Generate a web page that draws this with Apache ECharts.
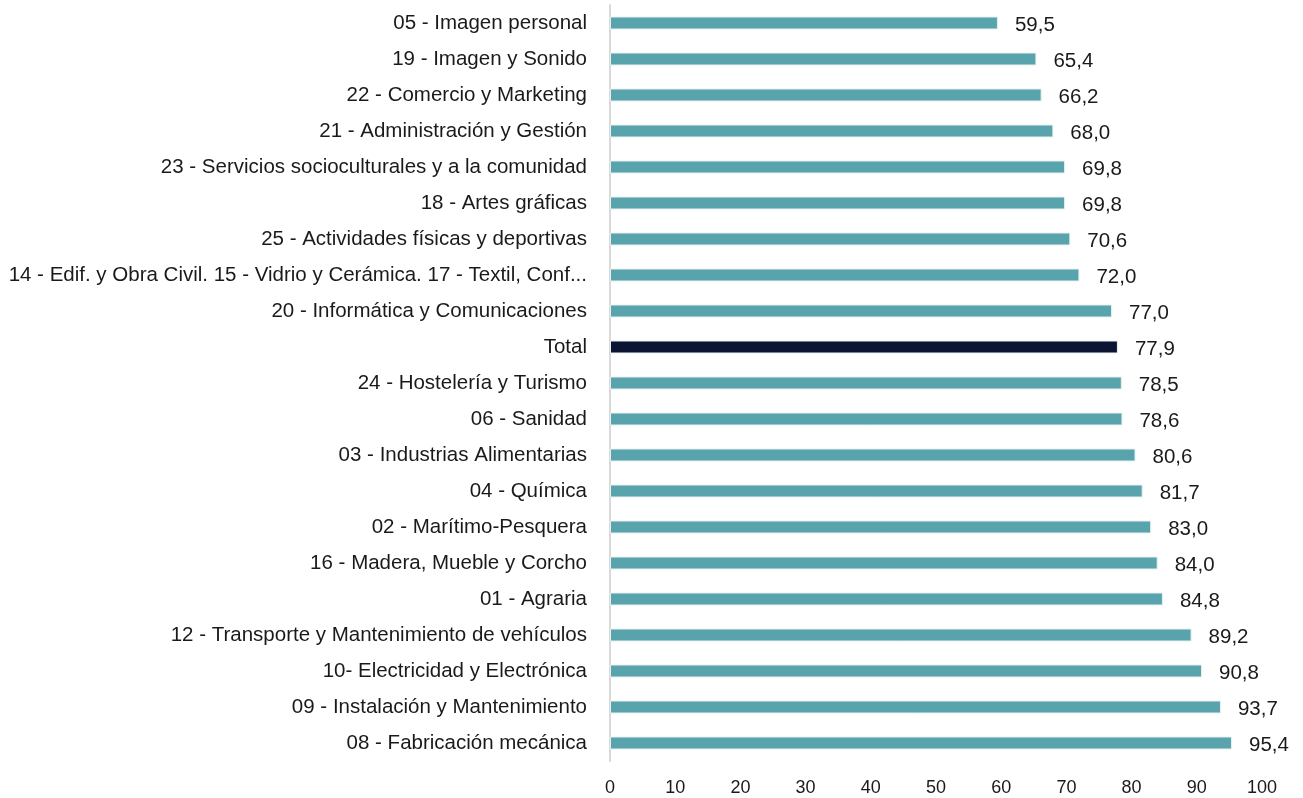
<!DOCTYPE html>
<html>
<head>
<meta charset="utf-8">
<script src="https://cdn.jsdelivr.net/npm/echarts@6/dist/echarts.min.js"></script>
<style>
  html, body { margin: 0; padding: 0; background: #fff; }
  #chart { width: 1303px; height: 798px; }
</style>
</head>
<body>
<div id="chart"></div>
<script>
// categories, top to bottom
var categories = [
  '05 - Imagen personal',
  '19 - Imagen y Sonido',
  '22 - Comercio y Marketing',
  '21 - Administración y Gestión',
  '23 - Servicios socioculturales y a la comunidad',
  '18 - Artes gráficas',
  '25 - Actividades físicas y deportivas',
  '14 - Edif. y Obra Civil. 15 - Vidrio y Cerámica. 17 - Textil, Conf...',
  '20 - Informática y Comunicaciones',
  'Total',
  '24 - Hostelería y Turismo',
  '06 - Sanidad',
  '03 - Industrias Alimentarias',
  '04 - Química',
  '02 - Marítimo-Pesquera',
  '16 - Madera, Mueble y Corcho',
  '01 - Agraria',
  '12 - Transporte y Mantenimiento de vehículos',
  '10- Electricidad y Electrónica',
  '09 - Instalación y Mantenimiento',
  '08 - Fabricación mecánica'
];
var values = [59.5, 65.4, 66.2, 68.0, 69.8, 69.8, 70.6, 72.0, 77.0, 77.9, 78.5, 78.6, 80.6, 81.7, 83.0, 84.0, 84.8, 89.2, 90.8, 93.7, 95.4];
var highlight = 'Total';

var teal = '#59A3AC';
var navy = '#0C1433';

var chart = echarts.init(document.getElementById('chart'));

var barData = values.map(function (v, i) {
  return {
    value: v,
    itemStyle: { color: categories[i] === highlight ? navy : teal }
  };
});

chart.setOption({
  animation: false,
  textStyle: { fontFamily: '"Liberation Sans", Arial, sans-serif' },
  grid: { left: 610, right: 41, top: 5, bottom: 37 },
  xAxis: {
    type: 'value',
    min: 0,
    max: 100,
    interval: 10,
    axisLine: { show: false },
    axisTick: { show: false },
    splitLine: { show: false },
    axisLabel: { color: '#1a1a1a', fontSize: 18, margin: 18 }
  },
  yAxis: {
    type: 'category',
    data: categories,
    inverse: true,
    axisLine: { show: true, lineStyle: { color: '#D9D9D9', width: 2 } },
    axisTick: { show: false },
    axisLabel: { color: '#1a1a1a', fontSize: 20.5, margin: 23 }
  },
  series: [{
    type: 'bar',
    data: barData,
    barWidth: 13,
    itemStyle: { borderColor: '#E6F0F1', borderWidth: 1 },
    label: {
      show: true,
      position: 'right',
      distance: 17,
      color: '#1a1a1a',
      fontSize: 20.5,
      offset: [0, 2],
      formatter: function (p) { return p.value.toFixed(1).replace('.', ','); }
    }
  }]
});
</script>
</body>
</html>
